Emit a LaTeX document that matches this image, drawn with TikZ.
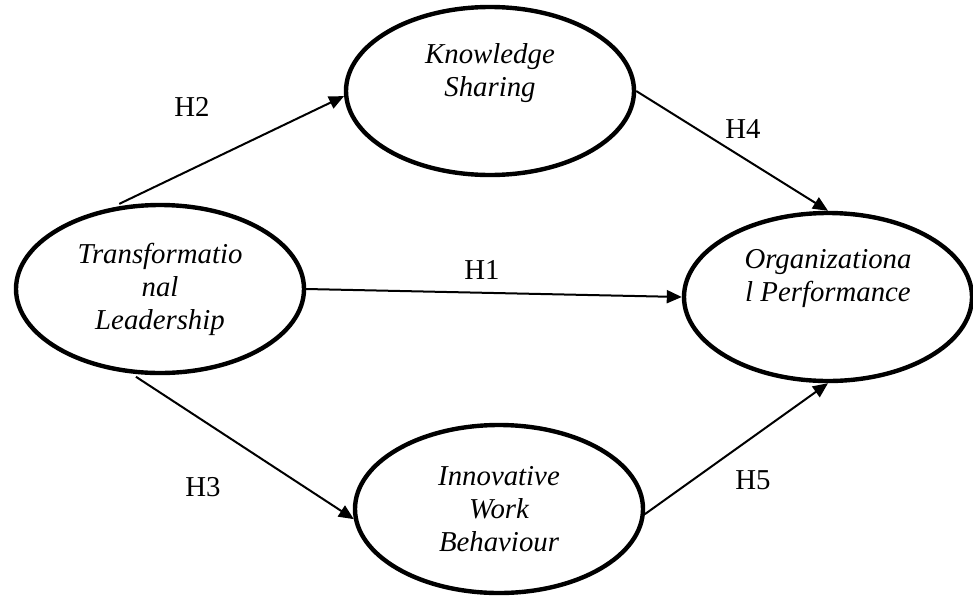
\documentclass[tikz,border=0pt]{standalone}
\usepackage{fontspec}
\setmainfont{Liberation Serif}
\usetikzlibrary{shapes.geometric, arrows.meta, positioning}
\tikzstyle{construct} = [ellipse, minimum width=144pt, minimum height=84pt, inner sep=0pt, line width=2.2pt, draw=black, align=center, font=\fontsize{14.4}{16.5}\selectfont\itshape]
\tikzstyle{hyp} = [inner sep=0pt, font=\fontsize{14.4}{16.5}\selectfont]
\tikzstyle{arrow} = [line width=1pt, -{Triangle[length=7.5pt, width=6.5pt]}]

\begin{document}
\begin{tikzpicture}[x=0.5pt, y=-0.5pt]
\useasboundingbox (0,0) rectangle (973,595);

% Nodes
\node (tl) [construct] at (160,289) {Transformatio\\nal\\Leadership};
\node (ks) [construct] at (490,91) {Knowledge\\Sharing\\\strut};
\node (op) [construct] at (828,297) {Organizationa\\l Performance\\\strut};
\node (iwb) [construct] at (499,509) {Innovative\\Work\\Behaviour};

% Labels
\node (h2) [hyp] at (192,107) {H2};
\node (h4) [hyp] at (743,129) {H4};
\node (h1) [hyp] at (482,270) {H1};
\node (h3) [hyp] at (203,487) {H3};
\node (h5) [hyp] at (753,480) {H5};

% Arrows
\draw [arrow, shorten <=4.5pt] (tl.121) -- (ks.182);
\draw [arrow] (ks.east) -- (op.north);
\draw [arrow] (tl.east) -- (op.west);
\draw [arrow, shorten <=3pt] (tl.251) -- (iwb.184);
\draw [arrow] (iwb.-2) -- (op.south);

\end{tikzpicture}
\end{document}
